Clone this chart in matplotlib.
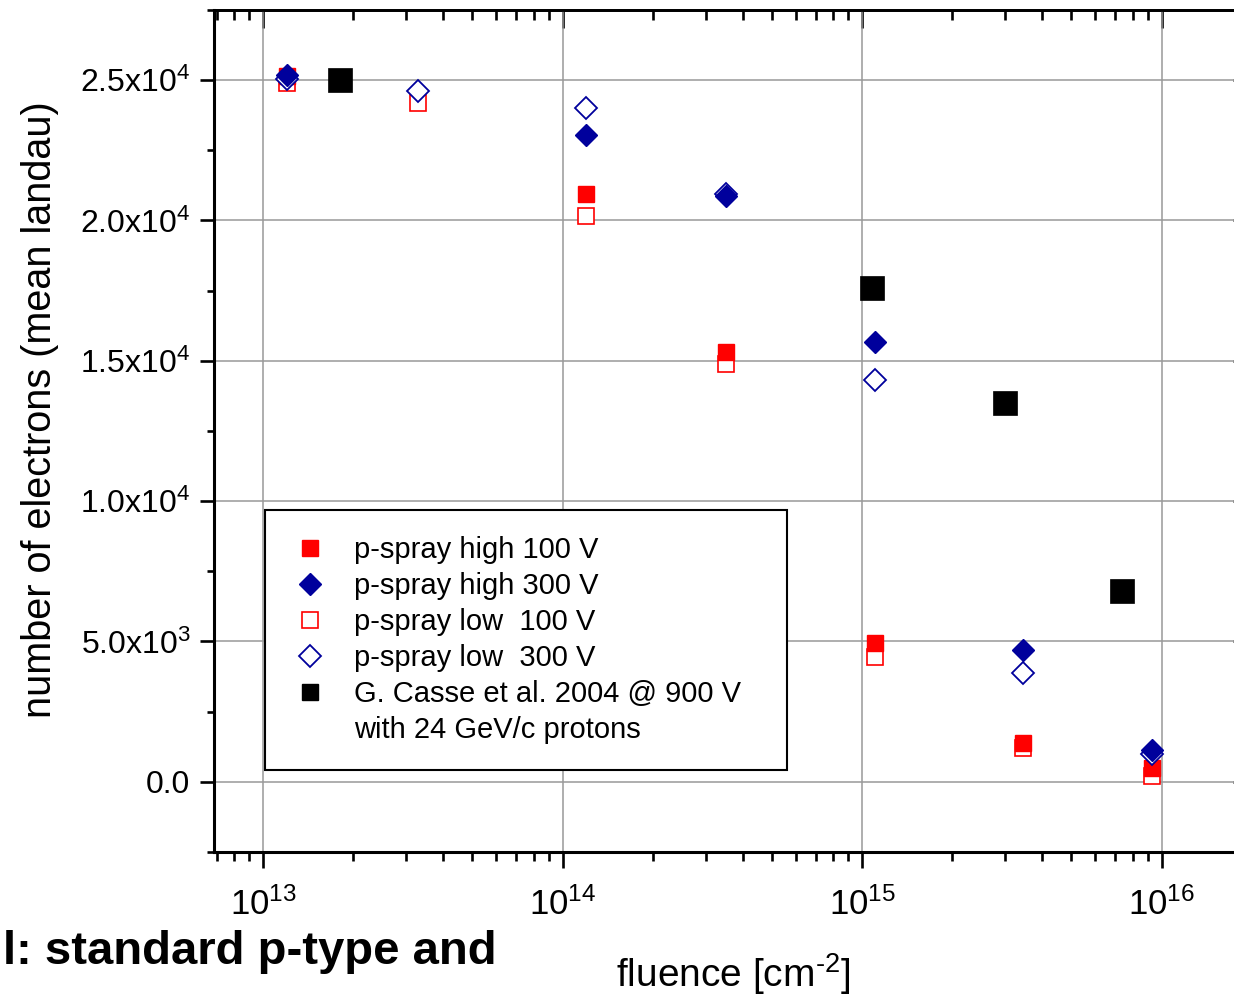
import numpy as np
import matplotlib
matplotlib.use("Agg")
import matplotlib.pyplot as plt
from matplotlib.lines import Line2D
from matplotlib.ticker import FixedLocator, MultipleLocator, LogLocator, NullFormatter

plt.rcParams['font.family'] = ['Liberation Sans', 'DejaVu Sans']
plt.rcParams['mathtext.fontset'] = 'custom'
plt.rcParams['mathtext.rm'] = 'Liberation Sans'
plt.rcParams['mathtext.it'] = 'Liberation Sans:italic'
plt.rcParams['mathtext.bf'] = 'Liberation Sans:bold'

# p-spray detectors, fluence [cm^-2] and mean landau charge [electrons]
high100_x = [1.2e13, 1.2e14, 3.5e14, 1.1e15, 3.45e15, 9.3e15]
high100_y = [25150, 20950, 15300, 4930, 1390, 500]

high300_x = [1.2e13, 1.2e14, 3.5e14, 1.1e15, 3.45e15, 9.3e15]
high300_y = [25200, 23040, 20860, 15680, 4710, 1130]

low100_x = [1.2e13, 3.3e13, 1.2e14, 3.5e14, 1.1e15, 3.45e15, 9.3e15]
low100_y = [24890, 24200, 20160, 14890, 4430, 1210, 210]

low300_x = [1.2e13, 3.3e13, 1.2e14, 3.5e14, 1.1e15, 3.45e15, 9.3e15]
low300_y = [25040, 24610, 24000, 20960, 14320, 3860, 1000]

# reference: G. Casse et al. 2004, 900 V, 24 GeV/c protons
casse_x = [1.8e13, 1.08e15, 3.0e15, 7.4e15]
casse_y = [25000, 17600, 13500, 6800]

xticks = [1e13, 1e14, 1e15, 1e16]
xticklabels = ['$10^{13}$', '$10^{14}$', '$10^{15}$', '$10^{16}$']
yticks = [0, 5000, 10000, 15000, 20000, 25000]
yticklabels = ['0.0', '5.0x10$^3$', '1.0x10$^4$', '1.5x10$^4$',
               '2.0x10$^4$', '2.5x10$^4$']

labels = ['p-spray high 100 V', 'p-spray high 300 V', 'p-spray low  100 V',
          'p-spray low  300 V', 'G. Casse et al. 2004 @ 900 V',
          'with 24 GeV/c protons']

red = '#ff0000'
navy = '#00009c'

fig = plt.figure(figsize=(12.34, 9.96), dpi=100)
ax = fig.add_axes([214/1234, 144/996, 1024/1234, 842/996])

ax.plot(low100_x, low100_y, ls='none', marker='s', ms=11, mfc='white', mec=red, mew=1.2)
ax.plot(high100_x, high100_y, ls='none', marker='s', ms=11, mfc=red, mec=red, mew=1.0)
ax.plot(low300_x, low300_y, ls='none', marker='D', ms=11, mfc='white', mec=navy, mew=1.3)
ax.plot(high300_x, high300_y, ls='none', marker='D', ms=11, mfc=navy, mec=navy, mew=1.0)
ax.plot(casse_x, casse_y, ls='none', marker='s', ms=17.5, mfc='black', mec='black', mew=0.5)

ax.set_xscale('log')
ax.set_xlim(10**12.836, 10**16.255)
ax.set_ylim(-2500, 27500)

ax.xaxis.set_major_locator(FixedLocator(xticks))
ax.set_xticklabels(xticklabels)
ax.xaxis.set_minor_locator(LogLocator(base=10, subs=np.arange(2, 10)))
ax.xaxis.set_minor_formatter(NullFormatter())
ax.yaxis.set_major_locator(FixedLocator(yticks))
ax.set_yticklabels(yticklabels)
ax.yaxis.set_minor_locator(MultipleLocator(2500))

ax.tick_params(axis='both', which='major', direction='out', width=1.9)
ax.tick_params(axis='x', which='major', length=11.5, pad=14, labelsize=25)
ax.tick_params(axis='x', which='minor', direction='out', length=6.5, width=1.9)
ax.tick_params(axis='y', which='major', length=10, pad=7, labelsize=23)
ax.tick_params(axis='y', which='minor', direction='out', length=5, width=1.9)

for side in ['left', 'bottom']:
    ax.spines[side].set_linewidth(2.2)
ax.spines['top'].set_linewidth(2.0)
ax.spines['right'].set_linewidth(2.0)

# mirrored axes on top and right with ticks pointing inwards
top = ax.secondary_xaxis('top')
top.xaxis.set_major_locator(FixedLocator(xticks))
top.xaxis.set_minor_locator(LogLocator(base=10, subs=np.arange(2, 10)))
top.xaxis.set_major_formatter(NullFormatter())
top.xaxis.set_minor_formatter(NullFormatter())
top.tick_params(which='major', direction='in', length=13, width=1.9)
top.tick_params(which='minor', direction='in', length=7, width=1.9)
top.spines['top'].set_linewidth(2.0)

right = ax.secondary_yaxis('right')
right.yaxis.set_major_locator(FixedLocator(yticks))
right.yaxis.set_minor_locator(FixedLocator([]))
right.yaxis.set_major_formatter(NullFormatter())
right.tick_params(which='major', direction='in', length=3.5, width=1.9)

ax.grid(True, which='major', color='#999999', lw=1.1)
ax.set_axisbelow(True)

ax.set_xlabel(r'fluence [cm$^{\text{-}2}$]', fontsize=28)
ax.xaxis.set_label_coords(0.507, -0.118)
ax.set_ylabel('number of electrons (mean landau)', fontsize=28.5)
ax.yaxis.set_label_coords(-0.151, 0.525)

handles = [
    Line2D([], [], ls='none', marker='s', ms=11, mfc=red, mec=red),
    Line2D([], [], ls='none', marker='D', ms=11, mfc=navy, mec=navy),
    Line2D([], [], ls='none', marker='s', ms=11, mfc='white', mec=red, mew=1.2),
    Line2D([], [], ls='none', marker='D', ms=11, mfc='white', mec=navy, mew=1.3),
    Line2D([], [], ls='none', marker='s', ms=11.5, mfc='black', mec='black'),
    Line2D([], [], ls='none'),
]
leg = ax.legend(handles, labels, loc='upper left',
                bbox_to_anchor=(0.0498, 0.1033, 0.5098, 0.3029), mode='expand',
                borderaxespad=0, borderpad=0.9, handlelength=1.3,
                handletextpad=0.86, labelspacing=0.27, fontsize=21,
                fancybox=False, framealpha=1, edgecolor='black')
leg.get_frame().set_linewidth(1.5)

fig.text(3/1234, 32/996, 'l: standard p-type and', fontsize=34,
         fontweight='bold', va='baseline', ha='left')

fig.savefig('out.png', dpi=100)
